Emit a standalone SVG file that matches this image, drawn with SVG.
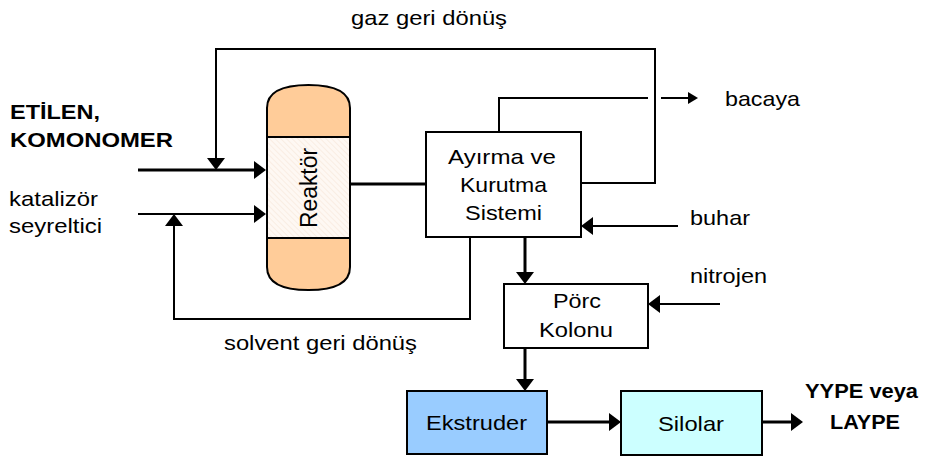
<svg xmlns="http://www.w3.org/2000/svg" width="931" height="457" viewBox="0 0 931 457">
  <style>
    .lbl { font-family: "Liberation Sans", Arial, sans-serif; font-size: 21px; fill: #000; }
    .bold { font-weight: bold; font-size: 20.5px; }
    .box { stroke: #000; stroke-width: 2; }
    .ln { fill: none; stroke: #000; stroke-width: 2; }
    .thick { stroke-width: 3; }
  </style>
  <defs>
    <pattern id="hatch" width="4" height="4" patternUnits="userSpaceOnUse" patternTransform="rotate(-45)">
      <rect width="4" height="4" fill="#FEF8F3"/>
      <line x1="0" y1="0" x2="0" y2="4" stroke="#F4E2D4" stroke-width="1"/>
    </pattern>
    <marker id="arr" markerUnits="userSpaceOnUse" markerWidth="12" markerHeight="18" refX="6" refY="9" orient="auto">
      <path d="M0,0 L12,9 L0,18 Z" fill="#000"/>
    </marker>
    <marker id="arrS" markerUnits="userSpaceOnUse" markerWidth="10" markerHeight="12" refX="5" refY="6" orient="auto">
      <path d="M0,0 L10,6 L0,12 Z" fill="#000"/>
    </marker>
  </defs>

  <rect width="931" height="457" fill="#fff"/>

  <!-- connectors -->
  <g id="connectors">
    <!-- gas recycle loop back to the feed line -->
    <path class="ln" d="M581,183 H655 V49 H216 V164" marker-end="url(#arr)"/>
    <!-- vent to stack, with a gap where it crosses the recycle line -->
    <path class="ln" d="M499,132 V98 H648"/>
    <path class="ln" d="M661,98 H693" marker-end="url(#arrS)"/>
    <!-- ethylene / comonomer feed -->
    <path class="ln thick" d="M138,170 H260" marker-end="url(#arr)"/>
    <!-- catalyst / diluent feed -->
    <path class="ln" d="M138,214 H260" marker-end="url(#arr)"/>
    <!-- solvent recycle -->
    <path class="ln" d="M470,237 V319 H174 V220" marker-end="url(#arr)"/>
    <!-- reactor outlet -->
    <path class="ln thick" d="M350,184 H426"/>
    <!-- steam -->
    <path class="ln" d="M678,226 H587" marker-end="url(#arr)"/>
    <!-- separation to purge column -->
    <path class="ln thick" d="M525,237 V278" marker-end="url(#arr)"/>
    <!-- nitrogen -->
    <path class="ln" d="M720,304 H654" marker-end="url(#arr)"/>
    <!-- purge column to extruder -->
    <path class="ln thick" d="M525,348 V385" marker-end="url(#arr)"/>
    <!-- extruder to silos -->
    <path class="ln thick" d="M547,422 H615" marker-end="url(#arr)"/>
    <!-- product out -->
    <path class="ln thick" d="M762,422 H797" marker-end="url(#arr)"/>
  </g>

  <!-- reactor vessel -->
  <g id="reaktor">
    <path d="M267,137 V108 C267,91 285,85 308.5,85 C332,85 350,91 350,108 V137 Z" fill="#FFCC99" class="box"/>
    <rect x="267" y="137" width="83" height="101" fill="url(#hatch)" class="box"/>
    <path d="M267,238 V267 C267,284 285,290 308.5,290 C332,290 350,284 350,267 V238 Z" fill="#FFCC99" class="box"/>
    <text class="lbl" transform="translate(317,188) scale(1.15,1) rotate(-90)" text-anchor="middle" font-size="21" textLength="80" lengthAdjust="spacingAndGlyphs">Reaktör</text>
  </g>

  <!-- separation and drying -->
  <g id="ayirma">
    <rect x="426" y="132" width="155" height="105" fill="#fff" class="box"/>
    <text class="lbl" x="448" y="164" textLength="108" lengthAdjust="spacingAndGlyphs">Ayırma ve</text>
    <text class="lbl" x="460" y="192" textLength="87" lengthAdjust="spacingAndGlyphs">Kurutma</text>
    <text class="lbl" x="465" y="220" textLength="77" lengthAdjust="spacingAndGlyphs">Sistemi</text>
  </g>

  <!-- purge column -->
  <g id="porc">
    <rect x="504" y="284" width="144" height="64" fill="#fff" class="box"/>
    <text class="lbl" x="553" y="308" textLength="48" lengthAdjust="spacingAndGlyphs">Pörc</text>
    <text class="lbl" x="539" y="337" textLength="74" lengthAdjust="spacingAndGlyphs">Kolonu</text>
  </g>

  <!-- extruder -->
  <g id="ekstruder">
    <rect x="407" y="391" width="140" height="63" fill="#99CCFF" class="box"/>
    <text class="lbl" x="426" y="430" textLength="101" lengthAdjust="spacingAndGlyphs">Ekstruder</text>
  </g>

  <!-- silos -->
  <g id="silolar">
    <rect x="621" y="391" width="141" height="64" fill="#CCFFFF" class="box"/>
    <text class="lbl" x="658" y="431" textLength="66" lengthAdjust="spacingAndGlyphs">Silolar</text>
  </g>

  <!-- stream labels -->
  <g id="labels">
    <text class="lbl" x="351" y="25" textLength="156" lengthAdjust="spacingAndGlyphs">gaz geri dönüş</text>
    <text class="lbl" x="725" y="106" textLength="75" lengthAdjust="spacingAndGlyphs">bacaya</text>
    <text class="lbl" x="690" y="225" textLength="60" lengthAdjust="spacingAndGlyphs">buhar</text>
    <text class="lbl" x="690" y="283" textLength="77" lengthAdjust="spacingAndGlyphs">nitrojen</text>
    <text class="lbl" x="224" y="350" textLength="193" lengthAdjust="spacingAndGlyphs">solvent geri dönüş</text>
    <text class="lbl" x="9" y="206" textLength="89" lengthAdjust="spacingAndGlyphs">katalizör</text>
    <text class="lbl" x="9" y="233" textLength="93" lengthAdjust="spacingAndGlyphs">seyreltici</text>
    <text class="lbl bold" x="10" y="119" textLength="90" lengthAdjust="spacingAndGlyphs">ETİLEN,</text>
    <text class="lbl bold" x="10" y="147" textLength="163" lengthAdjust="spacingAndGlyphs">KOMONOMER</text>
    <text class="lbl bold" x="805" y="398" textLength="113" lengthAdjust="spacingAndGlyphs">YYPE veya</text>
    <text class="lbl bold" x="830" y="429" textLength="70" lengthAdjust="spacingAndGlyphs">LAYPE</text>
  </g>
</svg>
